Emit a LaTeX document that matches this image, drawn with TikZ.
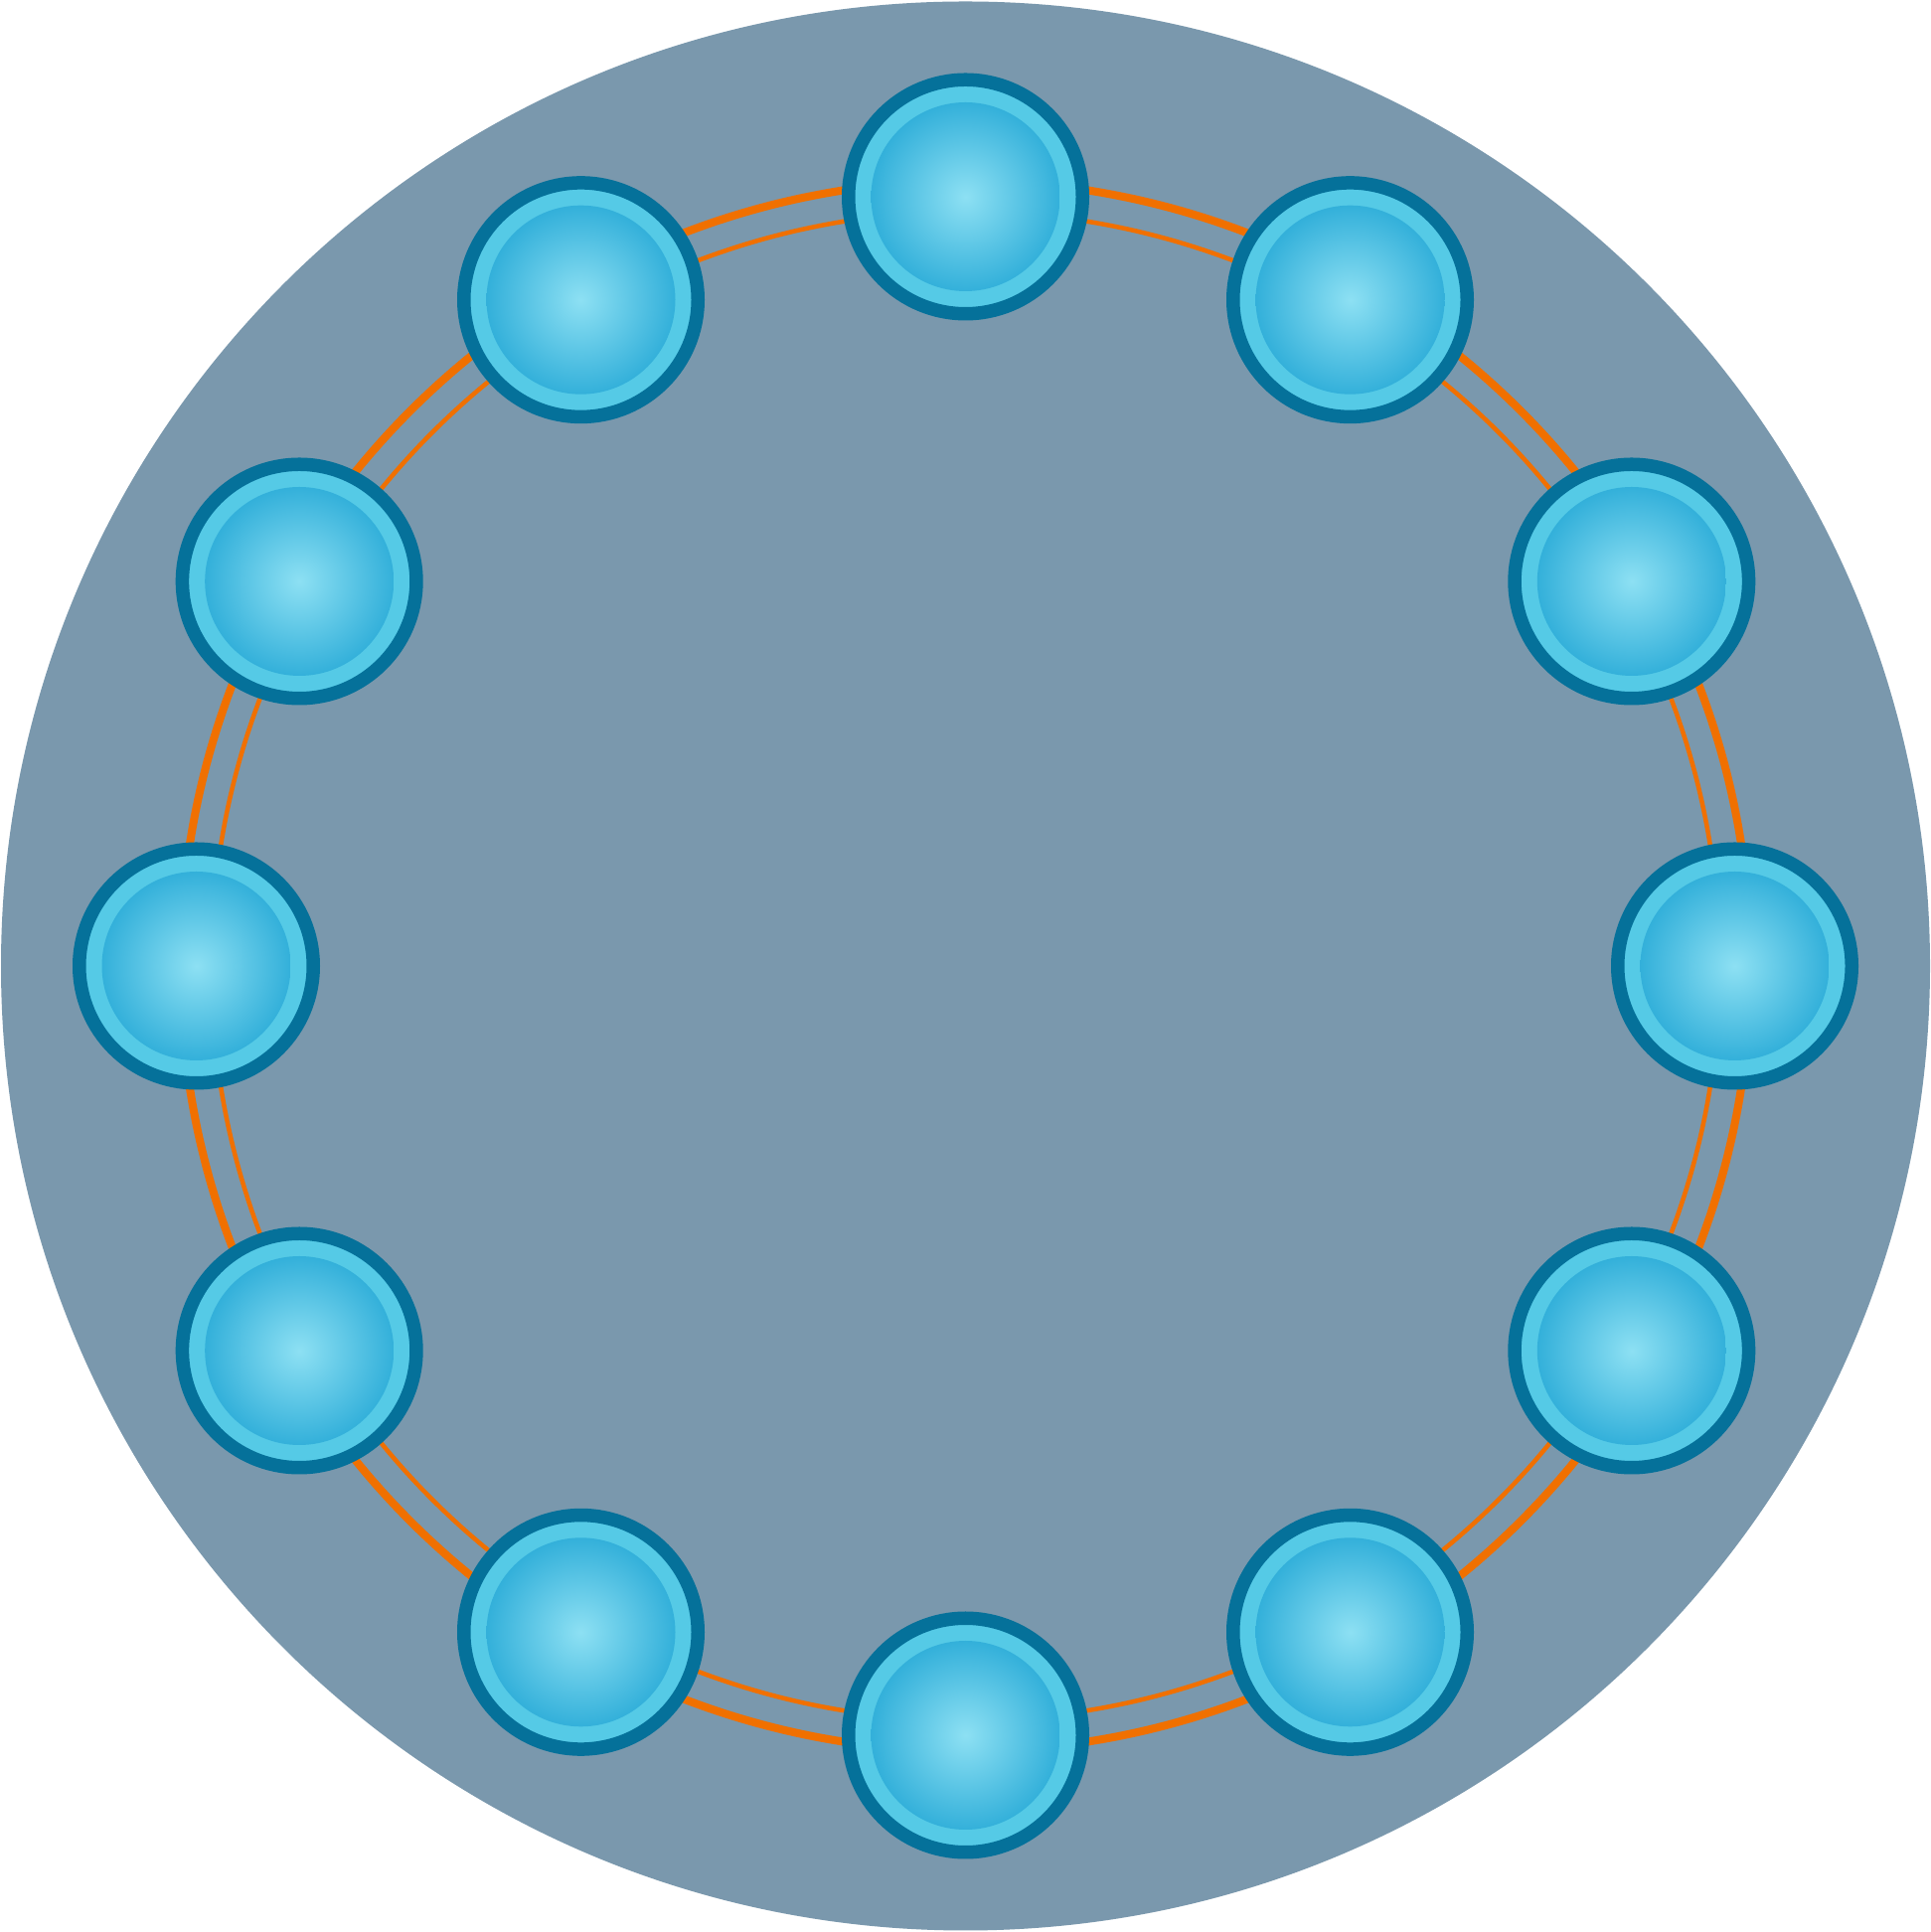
\documentclass[tikz,border=0pt]{standalone}
\usetikzlibrary{calc}
\definecolor{bgdisk}{HTML}{7A98AD}
\definecolor{ringdark}{HTML}{05719A}
\definecolor{ringlight}{HTML}{55CAE6}
\definecolor{ballin}{HTML}{8DE0F3}
\definecolor{ballout}{HTML}{33B0DA}
\definecolor{wire}{HTML}{F07000}
\pgfdeclareradialshading{ballshade}{\pgfpoint{0bp}{0bp}}{color(0bp)=(ballin); color(25bp)=(ballout); color(50bp)=(ballout)}
\begin{document}
\begin{tikzpicture}[x=1pt,y=1pt,
  ball/.style={circle, draw=ringdark, line width=13.5pt, fill=ringlight,
    minimum size=235.5pt, inner sep=0pt},
  core/.style={shading=ballshade},
  wirethick/.style={draw=wire, line width=8pt},
  wirethin/.style={draw=wire, line width=4.5pt}]
\useasboundingbox (0,0) rectangle (1943,1944);
\coordinate (c) at (971.5,972);
\fill[bgdisk] (c) circle (970.5);
\draw[wirethick] (c) circle (790);
\draw[wirethin] (c) circle (759);
\foreach \i in {0,...,11} {
  \node[ball] (n\i) at ($(c)+(90-30*\i:774)$) {};
  \shade[core] (n\i.center) circle (95);
}
\end{tikzpicture}
\end{document}
